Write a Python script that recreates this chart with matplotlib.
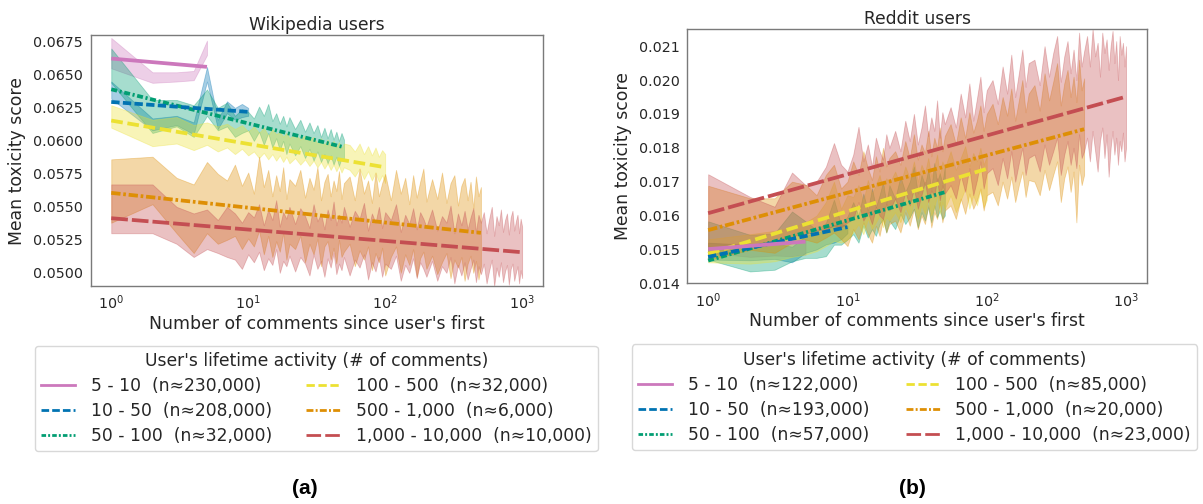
import numpy as np
import matplotlib
matplotlib.use("Agg")
import matplotlib.pyplot as plt
from matplotlib.lines import Line2D

plt.rcParams['font.family'] = ['DejaVu Sans']
plt.rcParams['lines.scale_dashes'] = False
TEXT = '#262626'

# ---------------- data ----------------
# comment-index positions at which the confidence bands were read
X_GRID = (list(range(1, 21)) + list(range(22, 51, 2)) + list(range(55, 101, 5))
          + list(range(110, 201, 10)) + list(range(220, 501, 20)) + list(range(525, 1001, 25)))

GROUPS = ["5 - 10", "10 - 50", "50 - 100", "100 - 500", "500 - 1,000", "1,000 - 10,000"]
MAX_X = [5, 10, 50, 100, 500, 1000]
WIKI_N = ["230,000", "208,000", "32,000", "32,000", "6,000", "10,000"]
REDDIT_N = ["122,000", "193,000", "57,000", "85,000", "20,000", "23,000"]

# regression lines (value at x=1 and at the last x of each group)
WIKI_FIT_START = [0.06624, 0.06295, 0.06391, 0.06154, 0.05606, 0.05414]
WIKI_FIT_END = [0.06561, 0.06220, 0.05952, 0.05800, 0.05303, 0.05156]
REDDIT_FIT_START = [0.01501, 0.01478, 0.01467, 0.01487, 0.01557, 0.01607]
REDDIT_FIT_END = [0.01523, 0.01566, 0.01669, 0.01738, 0.01855, 0.01951]

# Wikipedia confidence bands, units of 1e-4
WIKI_PINK_LO = [655, 644, 645, 646, 665]
WIKI_PINK_HI = [678, 652, 652, 653, 676]
WIKI_BLUE_LO = [632, 608, 612, 605, 645, 609, 621, 616, 618, 619]
WIKI_BLUE_HI = [645, 617, 619, 614, 656, 616, 630, 625, 628, 625]
WIKI_GREEN_LO = [644, 606, 611, 603, 619, 608, 611, 603, 606, 608,
                 600, 607, 597, 606, 595, 602, 593, 600, 590, 598,
                 589, 596, 587, 594, 585, 592, 584, 590, 583, 589, 582, 588, 581, 587, 586]
WIKI_GREEN_HI = [670, 631, 631, 627, 639, 625, 629, 619, 624, 622,
                 617, 626, 619, 628, 615, 621, 613, 619, 611, 618,
                 609, 616, 607, 614, 606, 612, 603, 610, 602, 609, 601, 607, 600, 606, 601]
WIKI_YELLOW_LO = [610, 596, 598, 593, 597, 592, 595, 590, 594, 589,
                  592, 587, 591, 586, 590, 585, 589, 584, 588, 583,
                  587, 582, 586, 581, 585, 580, 584, 579, 583, 578, 582, 577, 581, 576, 580,
                  578, 573, 579, 571, 577, 570, 576, 569, 574, 568]
WIKI_YELLOW_HI = [627, 616, 618, 612, 614, 611, 613, 609, 612, 607,
                  611, 606, 610, 604, 609, 605, 607, 603, 606, 602,
                  605, 601, 604, 600, 603, 598, 602, 597, 601, 596, 600, 595, 599, 594, 598,
                  597, 592, 598, 590, 596, 589, 595, 588, 593, 590]
WIKI_ORANGE_LO = [538, 552, 530, 515, 530, 522, 525, 528, 518, 526,
                  520, 532, 514, 528, 512, 524, 516, 530, 510, 522,
                  518, 528, 508, 522, 514, 526, 505, 520, 524, 510, 519, 507, 525, 512, 516,
                  522, 505, 517, 510, 520, 502, 515, 508, 519, 498,
                  512, 520, 500, 514, 506, 518, 497, 511, 516, 503,
                  513, 499, 508, 515, 496, 510, 504, 512, 494, 507, 513, 500, 509, 495, 505]
WIKI_ORANGE_HI = [586, 588, 572, 567, 584, 575, 570, 582, 566, 576,
                  560, 588, 565, 578, 558, 574, 562, 580, 556, 571,
                  566, 578, 557, 572, 563, 580, 555, 569, 575, 558, 570, 562, 577, 556, 568,
                  573, 555, 579, 560, 570, 553, 576, 558, 568, 575,
                  555, 578, 560, 572, 552, 574, 557, 569, 579, 554,
                  571, 556, 576, 553, 568, 574, 551, 566, 572, 555, 569, 549, 573, 558, 565]
WIKI_RED_LO = [530, 530, 522, 512, 518, 515, 512, 510, 503, 514,
               508, 516, 502, 511, 506, 518, 500, 509, 505, 513,
               501, 512, 507, 498, 514, 503, 509, 497, 511, 504, 515, 499, 507, 502, 512,
               498, 510, 504, 514, 495, 508, 501, 512, 497, 507,
               503, 513, 494, 506, 500, 511, 496, 508, 503, 497,
               509, 494, 505, 500, 512, 492, 506, 498, 508, 495, 503, 510, 493, 505, 499,
               507, 492, 502, 510, 490, 504, 497, 508, 493, 501,
               506, 491, 503, 507, 494, 500, 505, 492, 502, 496]
WIKI_RED_HI = [567, 567, 550, 545, 548, 540, 550, 545, 538, 546,
               542, 552, 536, 548, 540, 555, 535, 546, 541, 550,
               537, 549, 543, 534, 552, 539, 545, 533, 548, 540, 554, 536, 544, 538, 550,
               535, 547, 541, 553, 532, 545, 538, 550, 534, 546,
               540, 552, 531, 544, 537, 549, 533, 546, 541, 535,
               548, 532, 543, 538, 551, 530, 545, 536, 547, 533, 542, 549, 531, 544, 538,
               546, 530, 541, 550, 528, 543, 536, 548, 531, 540,
               545, 529, 542, 547, 532, 539, 544, 530, 541, 535]

# Reddit confidence bands, units of 1e-5
REDDIT_PINK_LO = [1490, 1478, 1482, 1480, 1485]
REDDIT_PINK_HI = [1520, 1515, 1522, 1525, 1530]
REDDIT_BLUE_LO = [1470, 1468, 1472, 1462, 1490, 1500, 1515, 1520, 1530, 1548]
REDDIT_BLUE_HI = [1520, 1512, 1518, 1508, 1540, 1548, 1560, 1572, 1575, 1570]
REDDIT_GREEN_LO = [1470, 1435, 1440, 1465, 1475, 1475, 1480, 1514, 1514, 1529,
                   1545, 1520, 1570, 1535, 1560, 1540, 1575, 1590, 1550, 1585,
                   1560, 1605, 1575, 1595, 1620, 1565, 1610, 1585, 1625, 1580, 1630, 1595, 1615, 1590, 1600]
REDDIT_GREEN_HI = [1583, 1543, 1548, 1612, 1583, 1558, 1578, 1647, 1573, 1597,
                   1640, 1600, 1665, 1615, 1680, 1625, 1660, 1700, 1635, 1690,
                   1650, 1715, 1670, 1700, 1745, 1665, 1720, 1690, 1735, 1680, 1755, 1700, 1725, 1695, 1745]
REDDIT_YELLOW_LO = [1462, 1458, 1465, 1478, 1485, 1495, 1510, 1525, 1520, 1530,
                    1550, 1575, 1545, 1590, 1560, 1580, 1600, 1565, 1595, 1585,
                    1610, 1580, 1625, 1595, 1640, 1590, 1630, 1605, 1650, 1600, 1625, 1660, 1605, 1640, 1620,
                    1660, 1610, 1645, 1680, 1620, 1660, 1630, 1675, 1625, 1646]
REDDIT_YELLOW_HI = [1530, 1545, 1555, 1565, 1580, 1600, 1640, 1700, 1620, 1660,
                    1655, 1690, 1640, 1705, 1665, 1690, 1720, 1675, 1710, 1695,
                    1730, 1690, 1745, 1710, 1760, 1700, 1750, 1725, 1770, 1715, 1745, 1780, 1720, 1760, 1740,
                    1790, 1735, 1770, 1805, 1745, 1785, 1760, 1800, 1750, 1775]
REDDIT_ORANGE_LO = [1470, 1499, 1490, 1520, 1529, 1520, 1535, 1550, 1530, 1510,
                    1560, 1530, 1580, 1545, 1520, 1570, 1540, 1590, 1550, 1575,
                    1585, 1550, 1610, 1570, 1620, 1560, 1600, 1575, 1630, 1565, 1610, 1590, 1640, 1580, 1615,
                    1630, 1590, 1650, 1605, 1665, 1620, 1645, 1680, 1615, 1660,
                    1670, 1630, 1700, 1650, 1715, 1640, 1690, 1730, 1655, 1705,
                    1700, 1660, 1735, 1675, 1720, 1760, 1640, 1710, 1745, 1670, 1730, 1580, 1750, 1690, 1720]
REDDIT_ORANGE_HI = [1688, 1651, 1651, 1700, 1691, 1660, 1720, 1750, 1680, 1700,
                    1760, 1720, 1790, 1740, 1705, 1775, 1730, 1800, 1745, 1770,
                    1790, 1750, 1820, 1770, 1840, 1765, 1810, 1785, 1850, 1775, 1830, 1800, 1860, 1790, 1835,
                    1870, 1810, 1890, 1830, 1905, 1845, 1880, 1925, 1850, 1900,
                    1930, 1870, 1950, 1895, 1975, 1880, 1940, 2000, 1905, 1960,
                    1985, 1910, 2020, 1940, 1995, 2050, 1925, 1990, 2030, 1950, 2010, 1935, 2060, 1970, 2005]
REDDIT_RED_LO = [1500, 1510, 1525, 1540, 1545, 1555, 1560, 1570, 1565, 1580,
                 1590, 1640, 1585, 1610, 1575, 1625, 1600, 1590, 1635, 1615,
                 1650, 1610, 1670, 1630, 1680, 1620, 1660, 1700, 1640, 1675, 1655, 1710, 1645, 1690, 1665,
                 1690, 1650, 1720, 1670, 1740, 1660, 1705, 1760, 1680, 1725,
                 1740, 1690, 1770, 1710, 1790, 1700, 1755, 1800, 1720, 1770,
                 1780, 1730, 1810, 1750, 1790, 1830, 1720, 1780, 1820, 1750, 1800, 1740, 1840, 1770, 1790,
                 1830, 1760, 1850, 1790, 1730, 1820, 1860, 1770, 1840, 1715,
                 1800, 1850, 1780, 1830, 1750, 1820, 1790, 1845, 1760, 1800]
REDDIT_RED_HI = [1722, 1655, 1626, 1727, 1690, 1700, 1744, 1814, 1750, 1730,
                 1780, 1862, 1760, 1810, 1745, 1830, 1790, 1765, 1840, 1800,
                 1850, 1790, 1880, 1820, 1900, 1810, 1860, 1925, 1835, 1890, 1850, 1940, 1830, 1905, 1870,
                 1920, 1860, 1960, 1890, 1990, 1880, 1945, 2010, 1905, 1970,
                 2000, 1930, 2040, 1960, 2075, 1950, 2020, 2090, 1980, 2050,
                 2060, 1985, 2100, 2010, 2080, 2130, 1995, 2070, 2115, 2020, 2090, 2000, 2140, 2040, 2085,
                 2130, 2040, 2150, 2070, 2110, 2010, 2140, 2080, 2120, 2030,
                 2100, 2145, 2050, 2115, 2000, 2130, 2075, 2110, 2040, 2100]

WIKI_LO = [WIKI_PINK_LO, WIKI_BLUE_LO, WIKI_GREEN_LO, WIKI_YELLOW_LO, WIKI_ORANGE_LO, WIKI_RED_LO]
WIKI_HI = [WIKI_PINK_HI, WIKI_BLUE_HI, WIKI_GREEN_HI, WIKI_YELLOW_HI, WIKI_ORANGE_HI, WIKI_RED_HI]
REDDIT_LO = [REDDIT_PINK_LO, REDDIT_BLUE_LO, REDDIT_GREEN_LO, REDDIT_YELLOW_LO, REDDIT_ORANGE_LO, REDDIT_RED_LO]
REDDIT_HI = [REDDIT_PINK_HI, REDDIT_BLUE_HI, REDDIT_GREEN_HI, REDDIT_YELLOW_HI, REDDIT_ORANGE_HI, REDDIT_RED_HI]

WIKI_YTICKS = [0.0500, 0.0525, 0.0550, 0.0575, 0.0600, 0.0625, 0.0650, 0.0675]
REDDIT_YTICKS = [0.014, 0.015, 0.016, 0.017, 0.018, 0.019, 0.020, 0.021]

# ---------------- style ----------------
COLORS = ['#cc78bc', '#0173b2', '#029e73', '#ece133', '#de8f05', '#c44e52']
DASHES = [None, (6, 2.4), (4.3, 1.9, 1.5, 1.9), (8.4, 3.4), (6.7, 2.0, 1.9, 2.0), (12, 2.9)]
LEG_DASHES = [None, (5.5, 2.2), (3.3, 1.5, 1.4, 1.5), (6.0, 2.6), (5.0, 1.6, 1.4, 1.6), (10.5, 3.0)]
LW = 2.7
LEG_LW = 2.0
BAND_ALPHA = 0.35

fig = plt.figure(figsize=(12.03, 5.04), dpi=100)
ax1 = fig.add_axes([0.0754, 0.4325, 0.3757, 0.4974])
ax2 = fig.add_axes([0.5713, 0.4379, 0.3821, 0.5040])


def panel(ax, title, los, his, scale, fstart, fend, ylim, yticks, fmt, ns,
          legend_anchor, colspace):
    for i in range(len(GROUPS)):
        lo = np.array(los[i]) * scale
        hi = np.array(his[i]) * scale
        x = np.array(X_GRID[:len(lo)])
        ax.fill_between(x, lo, hi, color=COLORS[i], alpha=BAND_ALPHA, lw=0.6, zorder=1)
    for i in reversed(range(len(GROUPS))):
        if DASHES[i] is None:
            ax.plot([1, MAX_X[i]], [fstart[i], fend[i]], color=COLORS[i], lw=LW,
                    ls='-', zorder=3, solid_capstyle='butt')
        else:
            ax.plot([1, MAX_X[i]], [fstart[i], fend[i]], color=COLORS[i], lw=LW,
                    dashes=DASHES[i], zorder=3)
    handles = []
    for i in range(len(GROUPS)):
        label = f"{GROUPS[i]}  (n\u2248{ns[i]})"
        if LEG_DASHES[i] is None:
            h = Line2D([], [], color=COLORS[i], lw=LEG_LW, ls='-', label=label)
        else:
            h = Line2D([], [], color=COLORS[i], lw=LEG_LW, dashes=LEG_DASHES[i], label=label)
        handles.append(h)
    ax.set_xscale('log')
    ax.set_ylim(*ylim)
    ax.set_yticks(yticks)
    ax.set_yticklabels([fmt.format(v) for v in yticks])
    ax.set_xticks([1, 10, 100, 1000])
    ax.minorticks_off()
    ax.tick_params(axis='both', length=0, pad=5.5, labelsize=10.3, colors=TEXT)
    for s in ax.spines.values():
        s.set_color('#7a7a7a')
        s.set_linewidth(1.0)
    ax.set_title(title, fontsize=12.3, color=TEXT, pad=4)
    ax.set_xlabel("Number of comments since user's first", fontsize=12.4, color=TEXT, labelpad=2)
    ax.set_ylabel("Mean toxicity score", fontsize=12.4, color=TEXT, labelpad=5)
    leg = ax.legend(handles=handles, ncol=2, loc='upper left',
                    bbox_to_anchor=legend_anchor, bbox_transform=fig.transFigure,
                    borderaxespad=0.0,
                    title="User's lifetime activity (# of comments)",
                    fontsize=12.3, title_fontsize=12.3, frameon=True, fancybox=True,
                    framealpha=1.0, edgecolor='#d8d8d8', borderpad=0.38,
                    labelspacing=0.41, handlelength=2.0, handletextpad=0.9,
                    columnspacing=colspace)
    for t in leg.get_texts():
        t.set_color(TEXT)
    leg.get_title().set_color(TEXT)


panel(ax1, "Wikipedia users", WIKI_LO, WIKI_HI, 1e-4, WIKI_FIT_START, WIKI_FIT_END,
      (0.0490, 0.0680), WIKI_YTICKS, "{:.4f}", WIKI_N, (34.6 / 1203, 1 - 345.5 / 504), 2.0)
panel(ax2, "Reddit users", REDDIT_LO, REDDIT_HI, 1e-5, REDDIT_FIT_START, REDDIT_FIT_END,
      (0.0140, 0.0215), REDDIT_YTICKS, "{:.3f}", REDDIT_N, (631.5 / 1203, 1 - 344.3 / 504), 2.15)

fig.text(305 / 1203, 1 - 489 / 504, "(a)", fontsize=15, fontweight='bold',
         family='Liberation Sans', ha='center', va='center', color='black')
fig.text(912 / 1203, 1 - 489 / 504, "(b)", fontsize=15, fontweight='bold',
         family='Liberation Sans', ha='center', va='center', color='black')

fig.savefig("out.png", dpi=100)
